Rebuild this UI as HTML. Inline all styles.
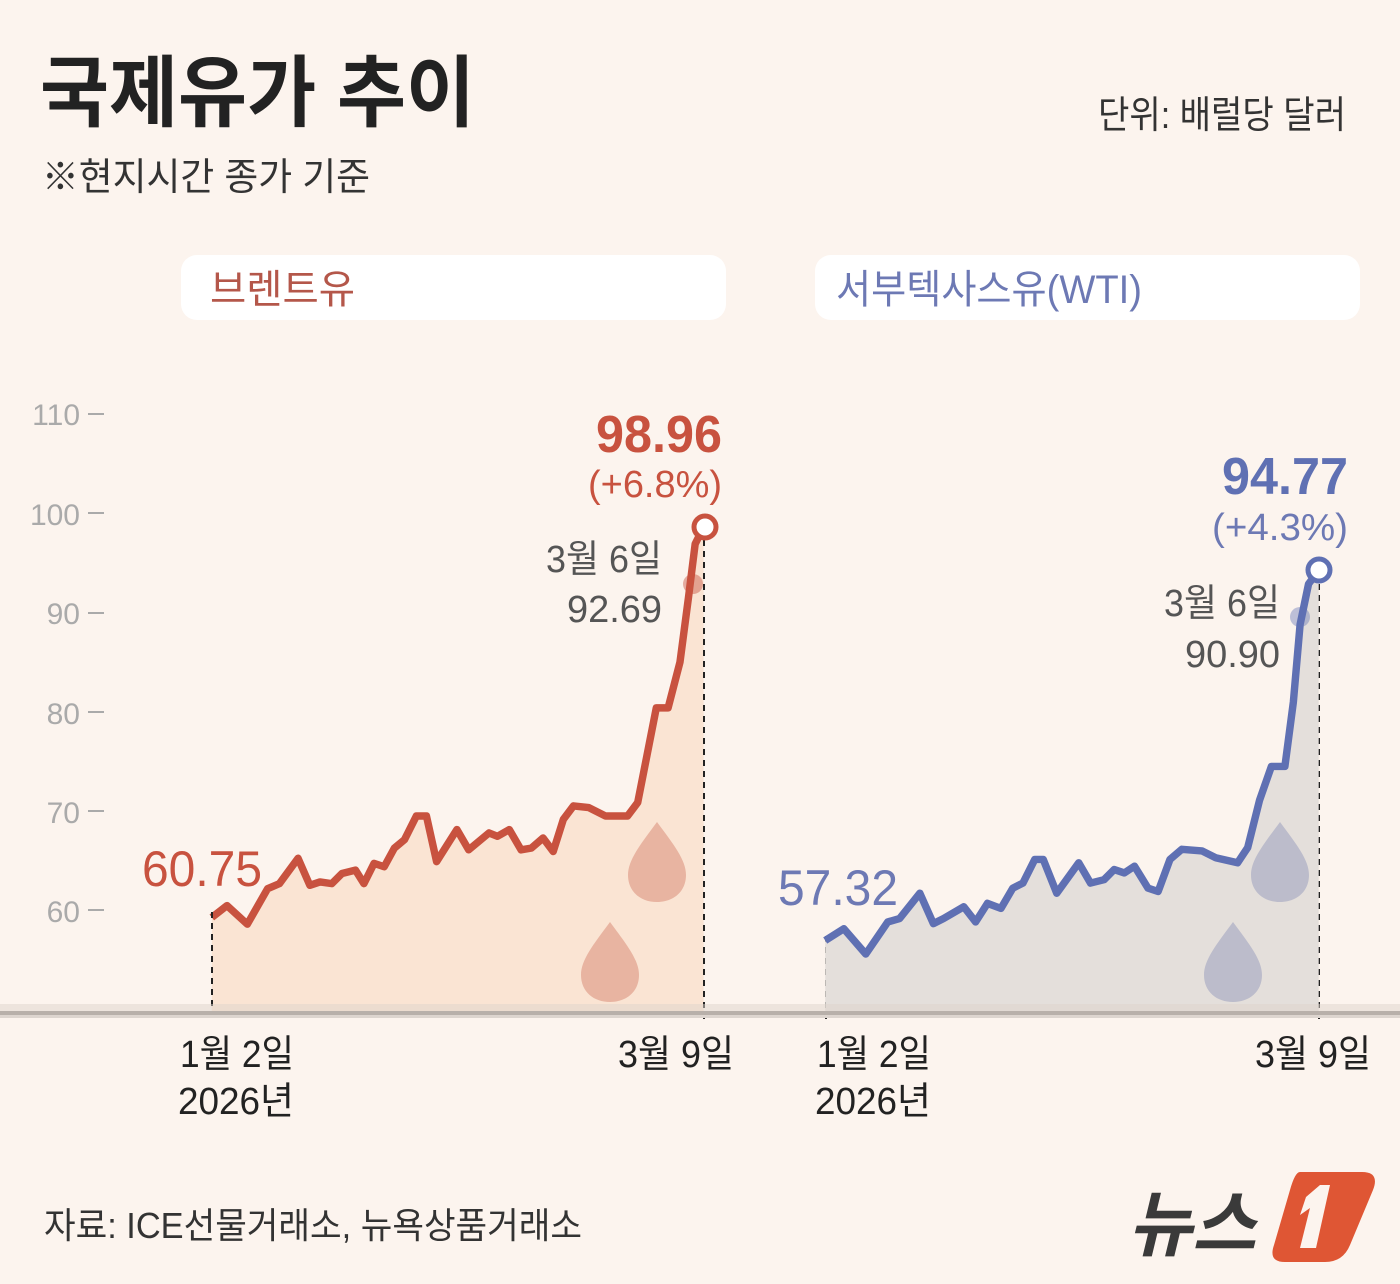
<!DOCTYPE html>
<html><head><meta charset="utf-8">
<style>
html,body{margin:0;padding:0;background:#fcf4ee;}
svg{display:block;}
text{font-family:"Liberation Sans","Noto Sans CJK KR",sans-serif;}
</style></head>
<body>
<svg width="1400" height="1284" viewBox="0 0 1400 1284" xmlns="http://www.w3.org/2000/svg">
<rect width="1400" height="1284" fill="#fcf4ee"/>
<text x="40" y="120" font-size="78" font-weight="bold" fill="#222" textLength="435" lengthAdjust="spacingAndGlyphs">국제유가 추이</text>
<text x="42" y="190" font-size="38" fill="#333" textLength="328" lengthAdjust="spacingAndGlyphs">※현지시간 종가 기준</text>
<text x="1346" y="128" font-size="38" fill="#333" text-anchor="end" textLength="248" lengthAdjust="spacingAndGlyphs">단위: 배럴당 달러</text>

<rect x="181" y="255" width="545" height="65" rx="16" fill="#fff"/>
<text x="210" y="303" font-size="40" fill="#b4574a" textLength="145" lengthAdjust="spacingAndGlyphs">브렌트유</text>
<rect x="815" y="255" width="545" height="65" rx="16" fill="#fff"/>
<text x="836" y="303" font-size="40" fill="#6d79b4" textLength="306" lengthAdjust="spacingAndGlyphs">서부텍사스유(WTI)</text>

<!-- y axis -->
<g font-size="30" fill="#aaa" text-anchor="end">
<text x="80" y="425">110</text><text x="80" y="525">100</text><text x="80" y="624">90</text>
<text x="80" y="724">80</text><text x="80" y="823">70</text><text x="80" y="922">60</text>
</g>
<g stroke="#aaa" stroke-width="2">
<line x1="88" y1="414" x2="104" y2="414"/><line x1="88" y1="513" x2="104" y2="513"/>
<line x1="88" y1="613" x2="104" y2="613"/><line x1="88" y1="712" x2="104" y2="712"/>
<line x1="88" y1="811" x2="104" y2="811"/><line x1="88" y1="910" x2="104" y2="910"/>
</g>

<!-- Brent -->
<g transform="translate(200,500) scale(0.338)">
<polygon fill="#fae4d3" points="35,1515 35,1235 80,1200 140,1255 200,1150 235,1135 290,1060 325,1140 355,1130 390,1135 420,1105 460,1095 485,1135 515,1075 545,1085 575,1030 605,1005 640,935 670,935 700,1070 760,975 795,1035 855,985 880,995 915,975 950,1035 980,1030 1015,1000 1045,1040 1075,945 1105,905 1150,910 1200,935 1265,935 1295,895 1350,615 1385,615 1420,480 1445,290 1465,130 1490,80 1490,1515"/>
<polyline fill="none" stroke="#c8523f" stroke-width="22" stroke-linejoin="round" points="35,1235 80,1200 140,1255 200,1150 235,1135 290,1060 325,1140 355,1130 390,1135 420,1105 460,1095 485,1135 515,1075 545,1085 575,1030 605,1005 640,935 670,935 700,1070 760,975 795,1035 855,985 880,995 915,975 950,1035 980,1030 1015,1000 1045,1040 1075,945 1105,905 1150,910 1200,935 1265,935 1295,895 1350,615 1385,615 1420,480 1445,290 1465,130 1490,80"/>
</g>
<circle cx="693" cy="584" r="10" fill="#c8523f" opacity="0.45"/>
<g stroke="#222" stroke-width="2" stroke-dasharray="6,5">
<line x1="212" y1="912" x2="212" y2="1020"/><line x1="704" y1="540" x2="704" y2="1020"/>
<line x1="826" y1="936" x2="826" y2="1020"/><line x1="1319" y1="584" x2="1319" y2="1020"/>
</g>
<path d="M657,822 C640,845 628,860 628,875 C628,892 641,902 657,902 C673,902 686,892 686,875 C686,860 674,845 657,822Z" fill="#e8b4a1"/>
<path d="M610,922 C593,945 581,960 581,975 C581,992 594,1002 610,1002 C626,1002 639,992 639,975 C639,960 627,945 610,922Z" fill="#e8b4a1"/>
<circle cx="705" cy="527" r="11" fill="#fff" stroke="#c8523f" stroke-width="5"/>
<text x="142" y="886" font-size="50" fill="#c8523f" textLength="120" lengthAdjust="spacingAndGlyphs">60.75</text>
<text x="722" y="452" font-size="52" font-weight="bold" fill="#c8523f" text-anchor="end" textLength="126" lengthAdjust="spacingAndGlyphs">98.96</text>
<text x="722" y="497" font-size="38" fill="#c8523f" text-anchor="end" textLength="134" lengthAdjust="spacingAndGlyphs">(+6.8%)</text>
<text x="662" y="572" font-size="38" fill="#555" text-anchor="end" textLength="116" lengthAdjust="spacingAndGlyphs">3월 6일</text>
<text x="662" y="622" font-size="38" fill="#555" text-anchor="end" textLength="95" lengthAdjust="spacingAndGlyphs">92.69</text>

<!-- WTI -->
<g transform="translate(810,540) scale(0.338)">
<polygon fill="#e4dfdb" points="45,1400 45,1185 100,1150 165,1225 230,1130 265,1120 325,1045 365,1135 395,1120 455,1085 490,1130 525,1075 565,1090 600,1030 630,1015 665,945 690,945 730,1045 795,955 830,1015 870,1005 900,975 930,985 960,965 1000,1030 1030,1040 1065,945 1100,915 1160,920 1200,940 1265,955 1295,910 1330,770 1365,670 1405,670 1430,480 1450,250 1475,130 1505,90 1505,1400"/>
<polyline fill="none" stroke="#5f70b3" stroke-width="22" stroke-linejoin="round" points="45,1185 100,1150 165,1225 230,1130 265,1120 325,1045 365,1135 395,1120 455,1085 490,1130 525,1075 565,1090 600,1030 630,1015 665,945 690,945 730,1045 795,955 830,1015 870,1005 900,975 930,985 960,965 1000,1030 1030,1040 1065,945 1100,915 1160,920 1200,940 1265,955 1295,910 1330,770 1365,670 1405,670 1430,480 1450,250 1475,130 1505,90"/>
</g>
<circle cx="1300" cy="617" r="10" fill="#5f70b3" opacity="0.4"/>
<path d="M1280,822 C1263,845 1251,860 1251,875 C1251,892 1264,902 1280,902 C1296,902 1309,892 1309,875 C1309,860 1297,845 1280,822Z" fill="#bcbccb"/>
<path d="M1233,922 C1216,945 1204,960 1204,975 C1204,992 1217,1002 1233,1002 C1249,1002 1262,992 1262,975 C1262,960 1250,945 1233,922Z" fill="#bcbccb"/>
<circle cx="1319" cy="570" r="11" fill="#fff" stroke="#5f70b3" stroke-width="5"/>
<text x="778" y="905" font-size="50" fill="#6d79b4" textLength="120" lengthAdjust="spacingAndGlyphs">57.32</text>
<text x="1348" y="494" font-size="52" font-weight="bold" fill="#5f70b3" text-anchor="end" textLength="126" lengthAdjust="spacingAndGlyphs">94.77</text>
<text x="1348" y="540" font-size="38" fill="#6d79b4" text-anchor="end" textLength="136" lengthAdjust="spacingAndGlyphs">(+4.3%)</text>
<text x="1280" y="616" font-size="38" fill="#555" text-anchor="end" textLength="116" lengthAdjust="spacingAndGlyphs">3월 6일</text>
<text x="1280" y="667" font-size="38" fill="#555" text-anchor="end" textLength="95" lengthAdjust="spacingAndGlyphs">90.90</text>

<!-- baseline -->
<rect x="0" y="1004" width="1400" height="8" fill="#ddd3cc" opacity="0.5"/>
<rect x="0" y="1011" width="1400" height="4" fill="#b8b0aa"/>
<rect x="0" y="1015" width="1400" height="3" fill="#ddd5cf"/>

<g font-size="38" fill="#222">
<text x="180" y="1067" textLength="114" lengthAdjust="spacingAndGlyphs">1월 2일</text>
<text x="178" y="1114" textLength="116" lengthAdjust="spacingAndGlyphs">2026년</text>
<text x="618" y="1067" textLength="116" lengthAdjust="spacingAndGlyphs">3월 9일</text>
<text x="817" y="1067" textLength="114" lengthAdjust="spacingAndGlyphs">1월 2일</text>
<text x="815" y="1114" textLength="116" lengthAdjust="spacingAndGlyphs">2026년</text>
<text x="1255" y="1067" textLength="116" lengthAdjust="spacingAndGlyphs">3월 9일</text>
</g>

<text x="44" y="1238" font-size="36" fill="#333" textLength="538" lengthAdjust="spacingAndGlyphs">자료:  ICE선물거래소, 뉴욕상품거래소</text>
<text x="1128" y="1250" font-size="72" font-weight="bold" font-style="italic" fill="#3a3a3a" textLength="128" lengthAdjust="spacingAndGlyphs">뉴스</text>
<path d="M1300,1172 L1362,1172 Q1380,1172 1373,1190 L1350,1245 Q1343,1262 1325,1262 L1285,1262 Q1268,1262 1274,1245 L1290,1190 Q1295,1172 1300,1172Z" fill="#df5634"/>
<path d="M1300,1215 L1306,1197 L1320,1185 L1330,1185 L1316,1248 L1300,1248 L1310,1208Z" fill="#fcf4ee"/>
</svg>
</body></html>
